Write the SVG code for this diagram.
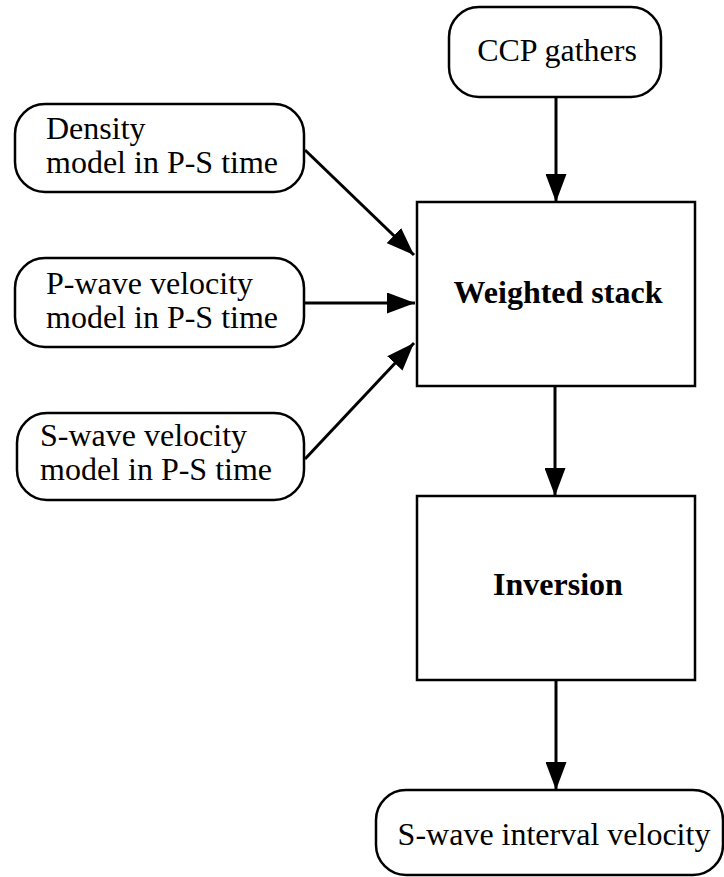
<svg xmlns="http://www.w3.org/2000/svg" width="724" height="877" viewBox="0 0 724 877">
  <style>
    .box { fill: #fff; stroke: #000; stroke-width: 2.5; }
    .lbl { font-family: "Liberation Serif", "Times New Roman", serif; font-size: 32px; fill: #000; }
    .bold { font-weight: bold; }
    .edge { stroke: #000; stroke-width: 3; fill: none; marker-end: url(#head); }
  </style>
  <defs>
    <marker id="head" markerUnits="userSpaceOnUse" markerWidth="28" markerHeight="21" refX="28" refY="10.5" orient="auto">
      <path d="M0,0 L28,10.5 L0,21 Z" fill="#000"/>
    </marker>
  </defs>

  <g id="connectors">
    <line class="edge" x1="556" y1="97" x2="556" y2="202"/>
    <line class="edge" x1="305" y1="150" x2="414" y2="255"/>
    <line class="edge" x1="305" y1="303" x2="415" y2="303"/>
    <line class="edge" x1="305" y1="459" x2="414" y2="343"/>
    <line class="edge" x1="555" y1="386" x2="555" y2="496"/>
    <line class="edge" x1="556" y1="680" x2="556" y2="790"/>
  </g>

  <g id="ccp-gathers">
    <rect class="box" x="449" y="7" width="212" height="90" rx="30" ry="30"/>
    <text class="lbl" x="557" y="61" text-anchor="middle">CCP gathers</text>
  </g>

  <g id="density-model">
    <rect class="box" x="15" y="104" width="289" height="88" rx="30" ry="30"/>
    <text class="lbl" x="46" y="139">Density</text>
    <text class="lbl" x="46" y="173">model in P-S time</text>
  </g>

  <g id="p-wave-model">
    <rect class="box" x="15" y="258" width="289" height="89" rx="30" ry="30"/>
    <text class="lbl" x="46" y="294">P-wave velocity</text>
    <text class="lbl" x="46" y="328">model in P-S time</text>
  </g>

  <g id="s-wave-model">
    <rect class="box" x="17" y="413" width="287" height="87" rx="30" ry="30"/>
    <text class="lbl" x="40" y="446">S-wave velocity</text>
    <text class="lbl" x="40" y="480">model in P-S time</text>
  </g>

  <g id="weighted-stack">
    <rect class="box" x="417" y="202" width="278" height="184"/>
    <text class="lbl bold" x="558" y="303" text-anchor="middle">Weighted stack</text>
  </g>

  <g id="inversion">
    <rect class="box" x="417" y="496" width="278" height="184"/>
    <text class="lbl bold" x="558" y="595" text-anchor="middle">Inversion</text>
  </g>

  <g id="interval-velocity">
    <rect class="box" x="376" y="790" width="347" height="85" rx="30" ry="30"/>
    <text class="lbl" x="554" y="845" text-anchor="middle">S-wave interval velocity</text>
  </g>
</svg>
